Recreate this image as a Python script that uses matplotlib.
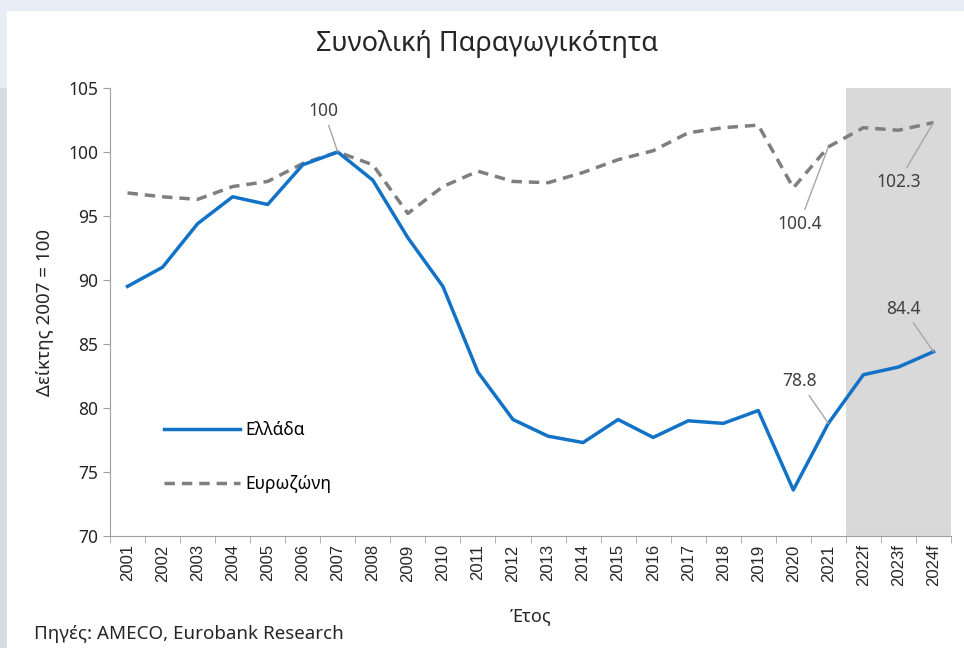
import matplotlib
matplotlib.use("Agg")
import matplotlib.pyplot as plt
from matplotlib.patches import Rectangle

plt.rcParams["font.family"] = ["Noto Sans", "DejaVu Sans"]

years = ["2001", "2002", "2003", "2004", "2005", "2006", "2007", "2008", "2009",
         "2010", "2011", "2012", "2013", "2014", "2015", "2016", "2017", "2018",
         "2019", "2020", "2021", "2022f", "2023f", "2024f"]
greece = [89.5, 91.0, 94.4, 96.5, 95.9, 99.0, 100.0, 97.8, 93.3, 89.5, 82.8, 79.1,
          77.8, 77.3, 79.1, 77.7, 79.0, 78.8, 79.8, 73.6, 78.8, 82.6, 83.2, 84.4]
eurozone = [96.8, 96.5, 96.3, 97.3, 97.7, 99.1, 100.0, 99.0, 95.2, 97.3, 98.5, 97.7,
            97.6, 98.4, 99.4, 100.1, 101.5, 101.9, 102.1, 97.2, 100.4, 101.9, 101.7, 102.3]
forecast_start = "2022f"

# etiketlar: (yil, qator, matn, siljish px)
labels = [("2007", greece, "100", (-14, 41)),
          ("2021", eurozone, "100.4", (-29, -77)),
          ("2024f", eurozone, "102.3", (-35, -59)),
          ("2021", greece, "78.8", (-29, 42)),
          ("2024f", greece, "84.4", (-30, 43))]

fig = plt.figure(figsize=(9.64, 6.48), dpi=100)

# fon ramkasi
fig.patches.append(Rectangle((0, 1 - 11 / 648), 1, 11 / 648, transform=fig.transFigure,
                             facecolor="#e9edf5", edgecolor="none", zorder=0))
fig.patches.append(Rectangle((0, 0), 7 / 964, 1 - 11 / 648, transform=fig.transFigure,
                             facecolor="#d5dce6", edgecolor="none", zorder=0))
fig.patches.append(Rectangle((0, 1 - 88 / 648), 7 / 964, 77 / 648, transform=fig.transFigure,
                             facecolor="#e9edf5", edgecolor="none", zorder=0))

ax = fig.add_axes([110 / 964, 1 - 536 / 648, 841 / 964, 448 / 648])
ax.set_facecolor("none")

x0 = years.index(forecast_start)
ax.axvspan(x0 - 0.5, len(years) - 0.5, color="#d9d9d9", lw=0, zorder=0)

ax.plot(years, greece, color="#1273c6", lw=2.5, label="Ελλάδα", zorder=3)
ax.plot(years, eurozone, color="#7f7f7f", lw=2.5, ls=(0, (3, 2)), label="Ευρωζώνη", zorder=2)

for yr, series, txt, (dx, dy) in labels:
    i = years.index(yr)
    ax.annotate(txt, (i, series[i]), xytext=(dx, dy), textcoords="offset pixels",
                ha="center", va="center", fontsize=12.5, color="#404040",
                arrowprops=dict(arrowstyle="-", color="#a6a6a6", lw=1,
                                shrinkA=2, shrinkB=0))

ax.set_xlim(-0.5, len(years) - 0.5)
ax.set_ylim(70, 105)
ax.set_yticks(range(70, 106, 5))
ax.set_xticks(range(len(years)))
ax.set_xticklabels(years, rotation=90, fontsize=12, family=["Liberation Sans", "DejaVu Sans"],
                   color="#262626")
ax.set_xticks([i - 0.5 for i in range(len(years) + 1)], minor=True)
ax.tick_params(axis="x", which="major", length=0, pad=6)
ax.tick_params(axis="x", which="minor", length=5, color="#a0a0a0")
ax.tick_params(axis="y", length=5, color="#a0a0a0", labelsize=12.5, labelcolor="#262626")
for s in ["top", "right"]:
    ax.spines[s].set_visible(False)
for s in ["left", "bottom"]:
    ax.spines[s].set_color("#a0a0a0")

ax.set_ylabel("Δείκτης 2007 = 100", fontsize=13.5, color="#262626", labelpad=10)
ax.set_xlabel("Έτος", fontsize=13, color="#262626", labelpad=15)

ax.legend(loc="upper left", bbox_to_anchor=(164 / 964, 1 - 421 / 648),
          bbox_transform=fig.transFigure, frameon=False, fontsize=12.5,
          handlelength=4.4, handletextpad=0.3, labelspacing=2.1, borderpad=0,
          borderaxespad=0)

fig.text(487 / 964, 1 - 44 / 648, "Συνολική Παραγωγικότητα", ha="center", va="center",
         fontsize=19.5, color="#262626")
fig.text(34 / 964, 1 - 634 / 648, "Πηγές: AMECO, Eurobank Research", ha="left",
         va="center", fontsize=13.5, color="#262626")

fig.savefig("out.png")
